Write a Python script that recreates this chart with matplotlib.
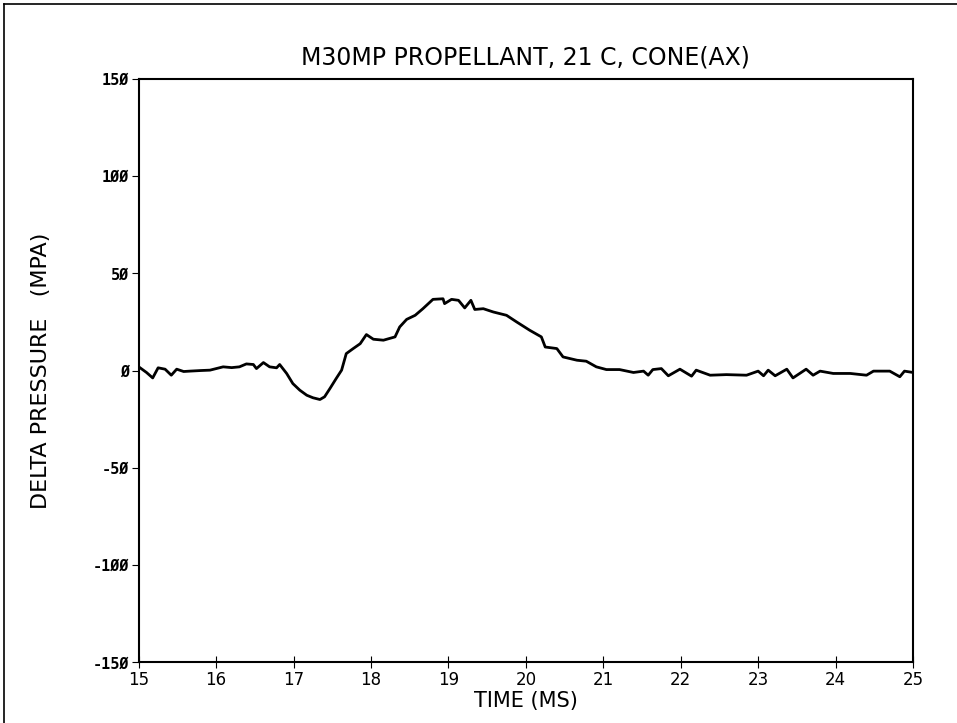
import matplotlib
matplotlib.use('Agg')
import matplotlib.pyplot as plt
from matplotlib.lines import Line2D

# trace: time (ms), delta pressure (MPa)
time_ms = [15.00, 15.10, 15.18, 15.25, 15.34, 15.42, 15.49, 15.58, 15.66, 15.80,
           15.92, 16.09, 16.20, 16.30, 16.39, 16.48, 16.52, 16.61, 16.69, 16.78,
           16.82, 16.91, 16.99, 17.08, 17.17, 17.25, 17.34, 17.40, 17.47, 17.55,
           17.62, 17.68, 17.77, 17.86, 17.94, 18.03, 18.16, 18.31, 18.37, 18.46,
           18.57, 18.67, 18.80, 18.93, 18.95, 19.04, 19.13, 19.21, 19.29, 19.34,
           19.45, 19.58, 19.75, 19.88, 20.05, 20.20, 20.25, 20.40, 20.48, 20.66,
           20.78, 20.91, 21.04, 21.21, 21.39, 21.52, 21.58, 21.64, 21.75, 21.84,
           21.99, 22.14, 22.20, 22.38, 22.59, 22.85, 23.00, 23.07, 23.13, 23.22,
           23.37, 23.45, 23.62, 23.71, 23.80, 23.97, 24.19, 24.40, 24.49, 24.70,
           24.83, 24.89, 25.00]
dp_mpa = [1.9, -1.0, -3.8, 1.4, 0.7, -2.4, 0.7, -0.5, -0.3, 0.0,
          0.2, 1.9, 1.5, 1.9, 3.4, 3.1, 1.0, 4.1, 1.9, 1.4,
          3.1, -1.5, -6.7, -10.1, -12.7, -14.0, -14.9, -13.5, -9.2, -4.1,
          0.2, 8.7, 11.3, 13.8, 18.5, 16.1, 15.6, 17.3, 22.4, 26.3,
          28.4, 31.8, 36.6, 36.9, 34.4, 36.6, 36.1, 32.2, 36.1, 31.4,
          31.8, 30.1, 28.4, 25.0, 20.7, 17.3, 12.1, 11.3, 7.0, 5.3,
          4.8, 1.9, 0.5, 0.5, -1.0, -0.3, -2.4, 0.5, 1.0, -2.7,
          0.7, -2.9, 0.2, -2.4, -2.1, -2.4, -0.3, -2.7, 0.2, -2.7,
          0.7, -3.8, 0.7, -2.4, -0.3, -1.5, -1.5, -2.4, -0.3, -0.3,
          -3.2, -0.3, -1.0]

x_ticks = [15, 16, 17, 18, 19, 20, 21, 22, 23, 24, 25]
y_ticks = [-150, -100, -50, 0, 50, 100, 150]

fig = plt.figure(figsize=(9.57, 7.23), dpi=100)
ax = fig.add_axes([0.145, 0.084, 0.809, 0.807])

ax.plot(time_ms, dp_mpa, color='black', lw=2.0)

ax.set_xlim(15, 25)
ax.set_ylim(-150, 150)
ax.set_xticks(x_ticks)
ax.set_yticks(y_ticks)
ax.set_yticklabels([str(v).replace('0', '\u00d8') for v in y_ticks],
                   fontweight='bold', family='DejaVu Sans Mono')
ax.tick_params(axis='x', direction='inout', length=8, labelsize=12, pad=2)
ax.tick_params(axis='y', direction='out', length=5, labelsize=11, pad=2)
for s in ax.spines.values():
    s.set_linewidth(1.5)

ax.set_title('M30MP PROPELLANT, 21 C, CONE(AX)', fontsize=17, pad=10,
             family='DejaVu Sans')
ax.set_xlabel('TIME (MS)', fontsize=15, labelpad=2)
ax.set_ylabel('DELTA PRESSURE   (MPA)', fontsize=16, labelpad=30)

# scanned page border on the left and top
fig.add_artist(Line2D([0.004, 0.004], [0.0, 0.994], color='black', lw=1.2))
fig.add_artist(Line2D([0.004, 1.0], [0.994, 0.994], color='black', lw=1.2))

fig.savefig('out.png', dpi=100)
